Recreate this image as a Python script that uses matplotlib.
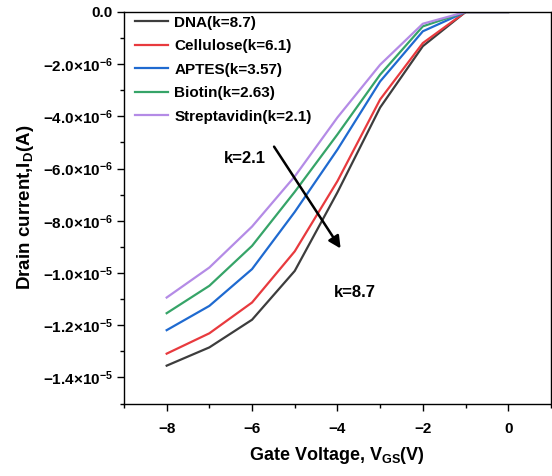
import numpy as np
import matplotlib
matplotlib.use("Agg")
import matplotlib.pyplot as plt
from matplotlib.ticker import FixedLocator, MultipleLocator

plt.rcParams['font.family'] = ['Liberation Sans', 'DejaVu Sans']
plt.rcParams['font.weight'] = 'bold'
plt.rcParams['mathtext.fontset'] = 'custom'
plt.rcParams['mathtext.rm'] = 'Liberation Sans:bold'
plt.rcParams['mathtext.it'] = 'Liberation Sans:bold'
plt.rcParams['mathtext.bf'] = 'Liberation Sans:bold'
plt.rcParams['mathtext.default'] = 'rm'

# gate voltage (V)
vgs = [-8, -7, -6, -5, -4, -3, -2, -1, 0]

# drain current (A)
dna = [-1.355e-5, -1.285e-5, -1.179e-5, -0.992e-5, -0.691e-5, -0.366e-5, -0.131e-5, 0.0, 0.0]
cellulose = [-1.309e-5, -1.231e-5, -1.113e-5, -0.917e-5, -0.648e-5, -0.335e-5, -0.119e-5, 0.0, 0.0]
aptes = [-1.219e-5, -1.126e-5, -0.985e-5, -0.766e-5, -0.527e-5, -0.266e-5, -0.074e-5, 0.0, 0.0]
biotin = [-1.154e-5, -1.049e-5, -0.896e-5, -0.689e-5, -0.469e-5, -0.240e-5, -0.055e-5, 0.0, 0.0]
strep = [-1.094e-5, -0.979e-5, -0.822e-5, -0.630e-5, -0.404e-5, -0.202e-5, -0.045e-5, 0.0, 0.0]

labels = ["DNA(k=8.7)", "Cellulose(k=6.1)", "APTES(k=3.57)", "Biotin(k=2.63)", "Streptavidin(k=2.1)"]
colors = ['#3d3d3d', '#e83a3e', '#1f6ad0', '#36a468', '#b48be6']

yticks = [0.0, -2e-6, -4e-6, -6e-6, -8e-6, -1.0e-5, -1.2e-5, -1.4e-5]
ytick_labels = ["0.0", "\u22122.0\u00d710$^{-6}$", "\u22124.0\u00d710$^{-6}$", "\u22126.0\u00d710$^{-6}$",
                "\u22128.0\u00d710$^{-6}$", "\u22121.0\u00d710$^{-5}$", "\u22121.2\u00d710$^{-5}$",
                "\u22121.4\u00d710$^{-5}$"]
xticks = [-8, -6, -4, -2, 0]
xtick_labels = ["\u22128", "\u22126", "\u22124", "\u22122", "0"]

fig = plt.figure(figsize=(5.52, 4.76), dpi=100)
ax = fig.add_axes([0.2246, 0.1523, 0.7734, 0.8225])

for y, lab, c in zip([dna, cellulose, aptes, biotin, strep], labels, colors):
    ax.plot(vgs, y, color=c, lw=1.6, label=lab)

ax.set_xlim(-9, 1)
ax.set_ylim(-1.5e-5, 0)

ax.yaxis.set_major_locator(FixedLocator(yticks))
ax.set_yticklabels(ytick_labels)
ax.yaxis.set_minor_locator(MultipleLocator(1e-6))
ax.xaxis.set_major_locator(FixedLocator(xticks))
ax.set_xticklabels(xtick_labels)
ax.xaxis.set_minor_locator(MultipleLocator(1))

ax.tick_params(which='major', length=5, width=1, labelsize=11, pad=3)
ax.tick_params(which='minor', length=3, width=1)
ax.tick_params(axis='x', pad=8)
for s in ax.spines.values():
    s.set_linewidth(1)

ax.set_xlabel("Gate Voltage, V$_{GS}$(V)", fontsize=13, fontweight='bold', labelpad=7)
ax.set_ylabel("Drain current,I$_D$(A)", fontsize=13.5, fontweight='bold', labelpad=5)

ax.legend(loc='upper left', frameon=False, fontsize=11, handlelength=2.2,
          handletextpad=0.4, labelspacing=0.62, borderaxespad=0.3,
          bbox_to_anchor=(0.0, 1.018))

ax.annotate("", xy=(-3.89, -0.915e-5), xytext=(-5.52, -0.507e-5),
            arrowprops=dict(arrowstyle='-|>', color='black', lw=1.8, mutation_scale=18))
ax.text(-6.17, -0.561e-5, "k=2.1", fontsize=12, fontweight='bold', ha='center', va='center')
ax.text(-3.59, -1.074e-5, "k=8.7", fontsize=12, fontweight='bold', ha='center', va='center')

fig.savefig("out.png", dpi=100)
